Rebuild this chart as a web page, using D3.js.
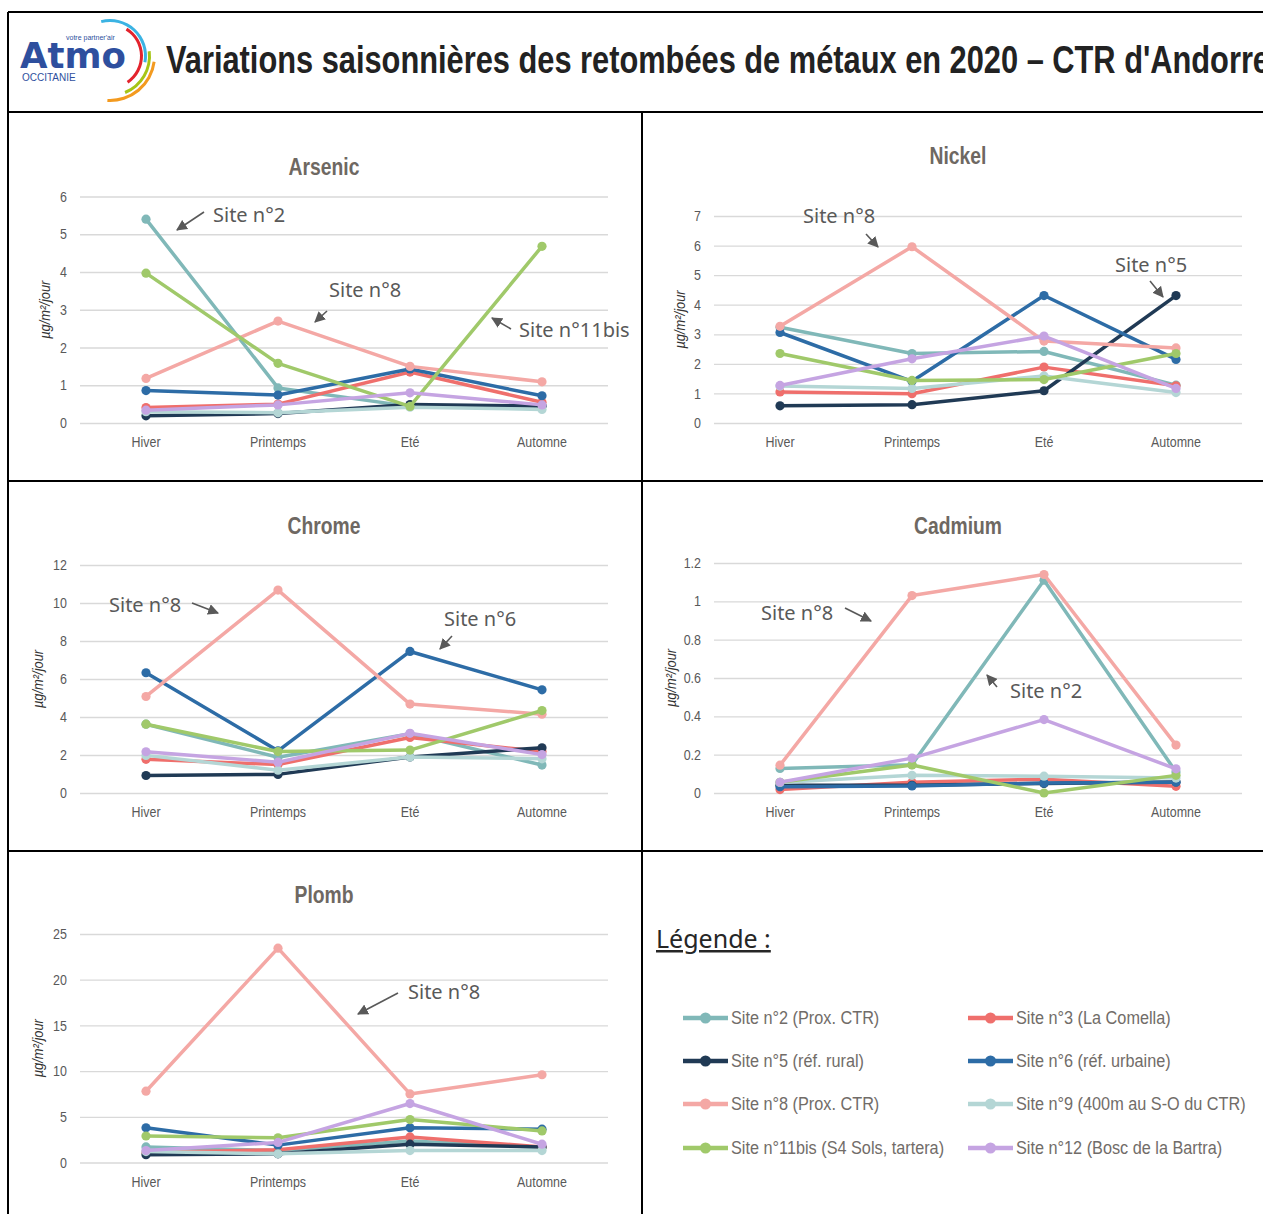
<!DOCTYPE html>
<html><head><meta charset="utf-8">
<script src="https://cdn.jsdelivr.net/npm/d3@7"></script>
<style>
body{margin:0;background:#fff;}
svg{display:block;}
</style></head><body>
<svg id="c" width="1263" height="1214"></svg>
<script>
// ---------- DATA ----------
const seasons = ["Hiver", "Printemps", "Eté", "Automne"];
const sites = ["Site n°2 (Prox. CTR)", "Site n°3 (La Comella)", "Site n°5 (réf. rural)", "Site n°6 (réf. urbaine)",
  "Site n°8 (Prox. CTR)", "Site n°9 (400m au S-O du CTR)", "Site n°11bis (S4 Sols, tartera)", "Site n°12 (Bosc de la Bartra)"];

// one row per site (same order as `sites`), one value per season
const arsenic = [
  [5.40, 0.93, 0.44, 0.46],
  [0.41, 0.50, 1.35, 0.55],
  [0.19, 0.25, 0.49, 0.45],
  [0.86, 0.74, 1.43, 0.72],
  [1.18, 2.70, 1.50, 1.09],
  [0.30, 0.27, 0.42, 0.36],
  [3.97, 1.58, 0.44, 4.68],
  [0.34, 0.48, 0.80, 0.48]
];
const nickel = [
  [3.24, 2.35, 2.42, 1.28],
  [1.05, 0.99, 1.89, 1.26],
  [0.58, 0.62, 1.09, 4.31],
  [3.06, 1.41, 4.31, 2.15],
  [3.27, 5.96, 2.77, 2.54],
  [1.25, 1.17, 1.59, 1.03],
  [2.35, 1.44, 1.47, 2.35],
  [1.27, 2.17, 2.94, 1.17]
];
const chrome = [
  [3.62, 1.88, 3.12, 1.47],
  [1.77, 1.50, 2.92, 2.18],
  [0.92, 0.98, 1.90, 2.38],
  [6.33, 2.22, 7.45, 5.43],
  [5.08, 10.68, 4.68, 4.15],
  [1.98, 1.20, 1.90, 1.80],
  [3.62, 2.18, 2.26, 4.34],
  [2.17, 1.62, 3.14, 2.02]
];
const cadmium = [
  [0.128, 0.148, 1.11, 0.11],
  [0.018, 0.056, 0.072, 0.035],
  [0.040, 0.040, 0.050, 0.058],
  [0.033, 0.037, 0.052, 0.056],
  [0.145, 1.03, 1.14, 0.25],
  [0.055, 0.092, 0.088, 0.078],
  [0.056, 0.146, 0.0, 0.092],
  [0.056, 0.182, 0.383, 0.126]
];
const plomb = [
  [1.70, 1.30, 2.35, 1.65],
  [1.10, 1.40, 2.80, 1.70],
  [0.85, 0.95, 2.00, 1.70],
  [3.80, 1.90, 3.80, 3.65],
  [7.80, 23.45, 7.50, 9.60],
  [1.20, 0.95, 1.30, 1.30],
  [2.90, 2.70, 4.70, 3.45],
  [1.30, 2.20, 6.45, 2.00]
];
const arsenicTicks = [0, 1, 2, 3, 4, 5, 6];
const nickelTicks = [0, 1, 2, 3, 4, 5, 6, 7];
const chromeTicks = [0, 2, 4, 6, 8, 10, 12];
const cadmiumTicks = [0, 0.2, 0.4, 0.6, 0.8, 1, 1.2];
const plombTicks = [0, 5, 10, 15, 20, 25];

// ---------- STYLE ----------
const siteColors = ["#80b8b8", "#ef6f6c", "#203a55", "#2d6ca6", "#f4a8a5", "#b4d6d5", "#a0c96a", "#c5a4e2"];
const grey = "#595959";
const titleCol = "#6e6862";
const NARROW = 0.86;
const FONT = "'Liberation Sans', Arial, sans-serif";
const FONT2 = "'Noto Sans', 'Open Sans', sans-serif";

const svg = d3.select("#c");
svg.append("rect").attr("width", 1263).attr("height", 1214).attr("fill", "#fff");

const defs = svg.append("defs");
defs.append("marker").attr("id", "arr").attr("viewBox", "0 0 10 10")
  .attr("refX", 9).attr("refY", 5).attr("markerWidth", 11).attr("markerHeight", 11)
  .attr("markerUnits", "userSpaceOnUse").attr("orient", "auto")
  .append("path").attr("d", "M0,0 L10,5 L0,10 Z").attr("fill", grey);

function ntext(g, x, y, txt, opts) {
  const sx = opts.sx || NARROW;
  return g.append("text")
    .attr("transform", `translate(${x},${y}) scale(${sx},1)`)
    .attr("text-anchor", opts.anchor || "start")
    .attr("font-family", opts.font || FONT)
    .attr("font-size", opts.size)
    .attr("font-weight", opts.weight || "normal")
    .attr("font-style", opts.style || "normal")
    .attr("fill", opts.fill || grey)
    .text(txt);
}

// ---------- FRAME ----------
const frame = svg.append("g").attr("stroke", "#000").attr("stroke-width", 2);
frame.append("line").attr("x1", 8).attr("x2", 1263).attr("y1", 12).attr("y2", 12);
frame.append("line").attr("x1", 8).attr("x2", 8).attr("y1", 12).attr("y2", 1214);
frame.append("line").attr("x1", 8).attr("x2", 1263).attr("y1", 112).attr("y2", 112);
frame.append("line").attr("x1", 8).attr("x2", 1263).attr("y1", 481).attr("y2", 481);
frame.append("line").attr("x1", 8).attr("x2", 1263).attr("y1", 851).attr("y2", 851);
frame.append("line").attr("x1", 642).attr("x2", 642).attr("y1", 112).attr("y2", 1214);

// ---------- HEADER ----------
const logo = svg.append("g");
const arcGen = d3.arc();
const arcs = [
  {c: "#3bb3e3", r0: 34, r1: 37, a0: -0.25, a1: 1.75},
  {c: "#e3232d", r0: 30, r1: 33, a0: 0.55, a1: 2.55},
  {c: "#a6c516", r0: 38, r1: 41, a0: 1.45, a1: 2.75},
  {c: "#f39a1f", r0: 43, r1: 46, a0: 1.7, a1: 3.2}
];
arcs.forEach(a => {
  logo.append("path").attr("transform", "translate(110,56)")
    .attr("d", arcGen({innerRadius: a.r0, outerRadius: a.r1, startAngle: a.a0, endAngle: a.a1}))
    .attr("fill", a.c);
});
logo.append("text").attr("x", 66).attr("y", 40).attr("font-family", FONT)
  .attr("font-size", 7).attr("fill", "#2e4f9e").text("votre partner'air");
logo.append("text").attr("x", 20).attr("y", 68).attr("font-family", "'DejaVu Sans', sans-serif")
  .attr("font-weight", "bold").attr("font-size", 36).attr("fill", "#2e4f9e")
  .attr("textLength", 106).attr("lengthAdjust", "spacingAndGlyphs").text("Atmo");
logo.append("text").attr("x", 22).attr("y", 81).attr("font-family", FONT)
  .attr("font-size", 10).attr("fill", "#2e4f9e").text("OCCITANIE");

svg.append("text").attr("x", 166).attr("y", 73).attr("font-family", FONT)
  .attr("font-weight", "bold").attr("font-size", 38).attr("fill", "#222")
  .attr("textLength", 1104).attr("lengthAdjust", "spacingAndGlyphs")
  .text("Variations saisonnières des retombées de métaux en 2020 – CTR d'Andorre");

// ---------- PANELS ----------
const panels = [
  {title: "Arsenic", data: arsenic, ticks: arsenicTicks, x0: 80, x1: 608, yTop: 196.5, yBot: 423, titleX: 324, titleY: 175, ylabX: 45,
   notes: [
     {t: "Site n°2", x: 213, y: 222, a: [204, 212, 177, 230]},
     {t: "Site n°8", x: 329, y: 297, a: [327, 311, 315, 322]},
     {t: "Site n°11bis", x: 519, y: 337, a: [511, 329, 492, 318]}
   ]},
  {title: "Nickel", data: nickel, ticks: nickelTicks, x0: 714, x1: 1242, yTop: 216, yBot: 423, titleX: 958, titleY: 164, ylabX: 680,
   notes: [
     {t: "Site n°8", x: 803, y: 223, a: [866, 234, 878, 247]},
     {t: "Site n°5", x: 1115, y: 272, a: [1150, 281, 1163, 297]}
   ]},
  {title: "Chrome", data: chrome, ticks: chromeTicks, x0: 80, x1: 608, yTop: 565, yBot: 793, titleX: 324, titleY: 534, ylabX: 38,
   notes: [
     {t: "Site n°8", x: 109, y: 612, a: [192, 603, 218, 613]},
     {t: "Site n°6", x: 444, y: 626, a: [452, 636, 440, 649]}
   ]},
  {title: "Cadmium", data: cadmium, ticks: cadmiumTicks, x0: 714, x1: 1242, yTop: 563, yBot: 793, titleX: 958, titleY: 534, ylabX: 671,
   notes: [
     {t: "Site n°8", x: 761, y: 620, a: [845, 608, 871, 621]},
     {t: "Site n°2", x: 1010, y: 698, a: [997, 687, 987, 675]}
   ]},
  {title: "Plomb", data: plomb, ticks: plombTicks, x0: 80, x1: 608, yTop: 934, yBot: 1162.5, titleX: 324, titleY: 903, ylabX: 38,
   notes: [
     {t: "Site n°8", x: 408, y: 999, a: [398, 993, 358, 1014]}
   ]}
];

panels.forEach(p => {
  const g = svg.append("g");
  const x = d3.scaleBand().domain(seasons).range([p.x0, p.x1]);
  const y = d3.scaleLinear().domain([0, d3.max(p.ticks)]).range([p.yBot, p.yTop]);
  const xc = s => x(s) + x.bandwidth() / 2;

  // grid + y ticks
  const ya = g.append("g").attr("transform", `translate(${p.x0},0)`)
    .call(d3.axisLeft(y).tickValues(p.ticks).tickSize(-(p.x1 - p.x0)).tickPadding(13).tickFormat(d3.format("~g")));
  ya.select(".domain").remove();
  ya.selectAll("line").attr("stroke", "#d9d9d9").attr("stroke-width", 1.3);
  ya.selectAll("text").attr("font-family", FONT).attr("font-size", 14.5).attr("fill", grey)
    .each(function() {
      const t = d3.select(this);
      const xx = +t.attr("x");
      t.attr("x", null).attr("transform", `translate(${xx},0) scale(${NARROW},1)`);
    });

  // x ticks
  const xa = g.append("g").attr("transform", `translate(0,${p.yBot})`)
    .call(d3.axisBottom(x).tickSize(0).tickPadding(14));
  xa.select(".domain").remove();
  xa.selectAll("text").attr("font-family", FONT).attr("font-size", 14.5).attr("fill", grey)
    .attr("transform", `scale(${NARROW},1)`);

  // title
  ntext(g, p.titleX, p.titleY, p.title, {size: 23, weight: "bold", anchor: "middle", fill: titleCol, sx: 0.84});
  // y label
  g.append("text").attr("transform", `translate(${p.ylabX},${(p.yTop + p.yBot) / 2}) rotate(-90) scale(${NARROW},1)`)
    .attr("text-anchor", "middle").attr("dy", "0.35em").attr("font-family", FONT).attr("font-style", "italic")
    .attr("font-size", 15).attr("fill", "#333").text("µg/m²/jour");

  // series
  const line = d3.line().x((d, i) => xc(seasons[i])).y(d => y(d));
  p.data.forEach((vals, si) => {
    const sg = g.append("g");
    sg.append("path").attr("d", line(vals)).attr("fill", "none").attr("stroke", siteColors[si])
      .attr("stroke-width", 3.5).attr("stroke-linejoin", "round");
    sg.selectAll("circle").data(vals).join("circle")
      .attr("cx", (d, i) => xc(seasons[i])).attr("cy", d => y(d)).attr("r", 4.6).attr("fill", siteColors[si]);
  });

  // annotations
  p.notes.forEach(n => {
    g.append("text").attr("x", n.x).attr("y", n.y).attr("font-family", FONT2).attr("font-size", 20)
      .attr("fill", grey).text(n.t);
    g.append("line").attr("x1", n.a[0]).attr("y1", n.a[1]).attr("x2", n.a[2]).attr("y2", n.a[3])
      .attr("stroke", grey).attr("stroke-width", 1.6).attr("marker-end", "url(#arr)");
  });
});

// ---------- LEGEND ----------
const lg = svg.append("g");
lg.append("text").attr("x", 656).attr("y", 948).attr("font-family", FONT2).attr("font-size", 25)
  .attr("fill", "#262626").attr("text-decoration", "underline").text("Légende :");
const legX = [683, 968];
const legY = [1018, 1061, 1104, 1148];
sites.forEach((s, i) => {
  const lx = legX[i % 2], ly = legY[Math.floor(i / 2)];
  lg.append("line").attr("x1", lx).attr("x2", lx + 45).attr("y1", ly).attr("y2", ly)
    .attr("stroke", siteColors[i]).attr("stroke-width", 4.5);
  lg.append("circle").attr("cx", lx + 22.5).attr("cy", ly).attr("r", 5.5).attr("fill", siteColors[i]);
  ntext(lg, lx + 48, ly + 6, s, {size: 17.5, fill: "#716c68", sx: 0.93});
});
</script>
</body></html>
